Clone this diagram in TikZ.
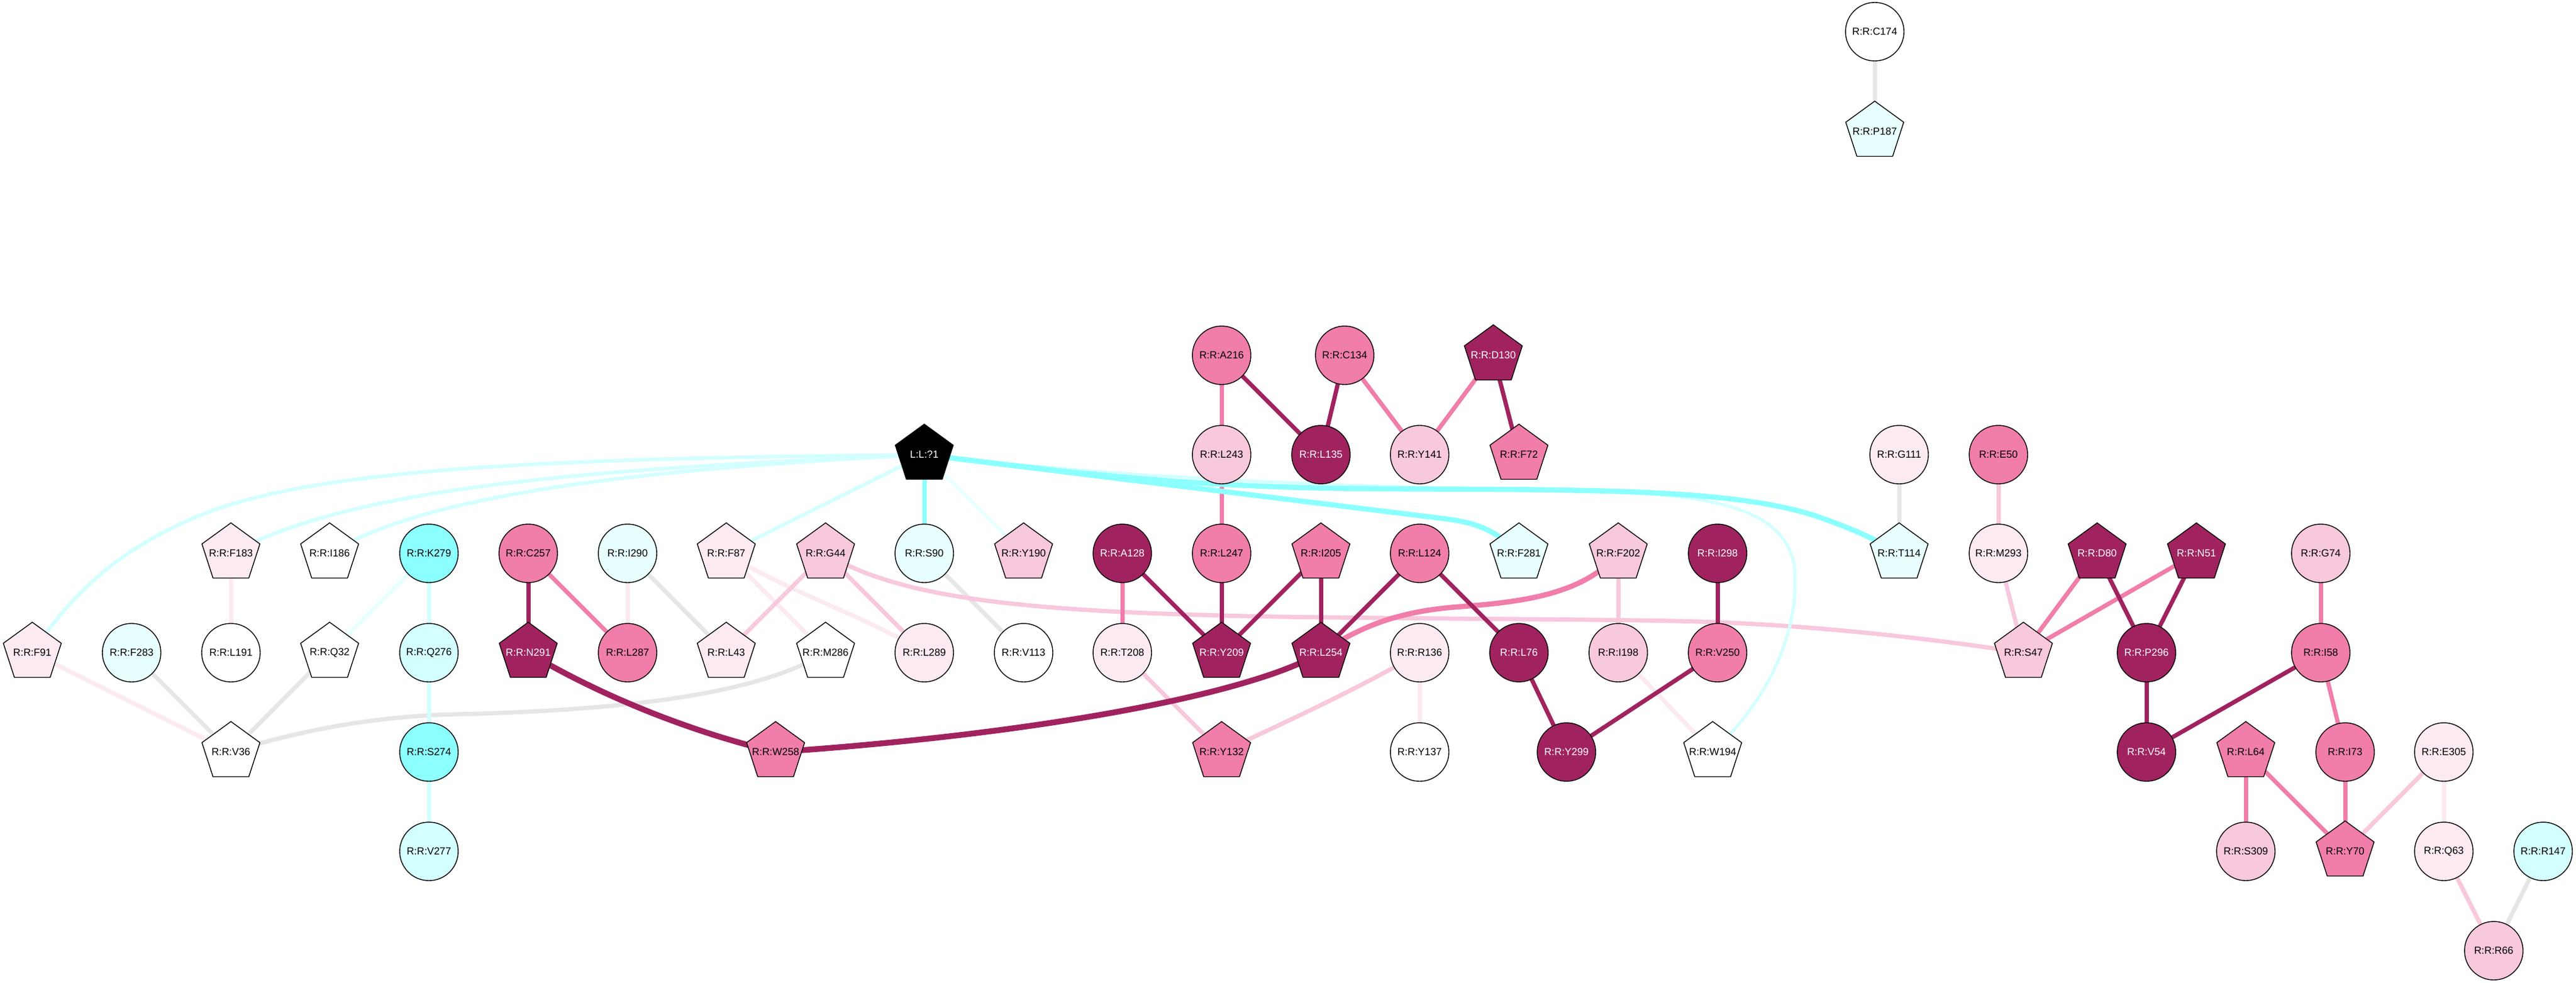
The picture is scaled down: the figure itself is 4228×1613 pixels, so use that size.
\documentclass[tikz,border=0pt]{standalone}
\usepackage{fontspec}
\setmainfont{Liberation Sans}
\usetikzlibrary{shapes.geometric,backgrounds}
\definecolor{dk}{HTML}{A0235F}
\definecolor{md}{HTML}{F07DAA}
\definecolor{lt}{HTML}{F8C8DC}
\definecolor{vl}{HTML}{FBEAF2}
\definecolor{cy}{HTML}{8CFFFF}
\definecolor{cl}{HTML}{D4FFFF}
\definecolor{cv}{HTML}{E8FFFF}
\definecolor{gr}{HTML}{E6E6E6}
\newcommand\nlab[1]{\makebox[0pt]{#1}}
\tikzset{
  base/.style={draw=black, line width=1.4pt, inner sep=0pt, font=\fontsize{16.8}{17}\selectfont},
  cir/.style={base, circle, minimum size=96pt},
  pen/.style={base, regular polygon, regular polygon sides=5, minimum size=100pt},
  fw/.style={fill=white},
  fdk/.style={fill=dk, text=white},
  fmd/.style={fill=md},
  flt/.style={fill=lt},
  fvl/.style={fill=vl},
  fcy/.style={fill=cy},
  fcl/.style={fill=cl},
  fcv/.style={fill=cv},
  fbk/.style={fill=black, text=white},
  edge/.style={line width=7pt, line cap=butt},
  egr/.style={edge, draw=gr},
  evl/.style={edge, draw=vl},
  elt/.style={edge, draw=lt},
  emd/.style={edge, draw=md},
  edk/.style={edge, draw=dk},
  ecy/.style={edge, draw=cy},
  ecl/.style={edge, draw=cl},
  ecv/.style={edge, draw=cv},
}
\begin{document}
\begin{tikzpicture}[x=1pt,y=-1pt]
\useasboundingbox (0,0) rectangle (4228,1613);
% row 0-1
\node[cir,fw]  (C174) at (3077,52)  {\nlab{R:R:C174}};
\node[pen,fcv] (P187) at (3077,216) {\nlab{R:R:P187}};
% row 2
\node[cir,fmd] (A216) at (2005,583) {\nlab{R:R:A216}};
\node[cir,fmd] (C134) at (2207,583) {\nlab{R:R:C134}};
\node[pen,fdk] (D130) at (2451,583) {\nlab{R:R:D130}};
% row 3
\node[pen,fbk] (L1)   at (1517,746) {\nlab{L:L:?1}};
\node[cir,flt] (L243) at (2005,746) {\nlab{R:R:L243}};
\node[cir,fdk] (L135) at (2168,746) {\nlab{R:R:L135}};
\node[cir,flt] (Y141) at (2330,746) {\nlab{R:R:Y141}};
\node[pen,fmd] (F72)  at (2493,746) {\nlab{R:R:F72}};
\node[cir,fvl] (G111) at (3117,746) {\nlab{R:R:G111}};
\node[cir,fmd] (E50)  at (3280,746) {\nlab{R:R:E50}};
% row 4
\node[pen,fvl] (F183) at (379,908)  {\nlab{R:R:F183}};
\node[pen,fw]  (I186) at (541,908)  {\nlab{R:R:I186}};
\node[cir,fcy] (K279) at (704,908)  {\nlab{R:R:K279}};
\node[cir,fmd] (C257) at (867,908)  {\nlab{R:R:C257}};
\node[cir,fcv] (I290) at (1030,908) {\nlab{R:R:I290}};
\node[pen,fvl] (F87)  at (1192,908) {\nlab{R:R:F87}};
\node[pen,flt] (G44)  at (1355,908) {\nlab{R:R:G44}};
\node[cir,fcv] (S90)  at (1517,908) {\nlab{R:R:S90}};
\node[pen,flt] (Y190) at (1680,908) {\nlab{R:R:Y190}};
\node[cir,fdk] (A128) at (1842,908) {\nlab{R:R:A128}};
\node[cir,fmd] (L247) at (2005,908) {\nlab{R:R:L247}};
\node[pen,fmd] (I205) at (2168,908) {\nlab{R:R:I205}};
\node[cir,fmd] (L124) at (2330,908) {\nlab{R:R:L124}};
\node[pen,fcv] (F281) at (2493,908) {\nlab{R:R:F281}};
\node[pen,flt] (F202) at (2656,908) {\nlab{R:R:F202}};
\node[cir,fdk] (I298) at (2819,908) {\nlab{R:R:I298}};
\node[pen,fcv] (T114) at (3117,908) {\nlab{R:R:T114}};
\node[cir,fvl] (M293) at (3280,908) {\nlab{R:R:M293}};
\node[pen,fdk] (D80)  at (3442,908) {\nlab{R:R:D80}};
\node[pen,fdk] (N51)  at (3605,908) {\nlab{R:R:N51}};
\node[cir,flt] (G74)  at (3809,908) {\nlab{R:R:G74}};
% row 5
\node[pen,fvl] (F91)  at (53,1071)   {\nlab{R:R:F91}};
\node[cir,fcv] (F283) at (216,1071)  {\nlab{R:R:F283}};
\node[cir,fw]  (L191) at (379,1071)  {\nlab{R:R:L191}};
\node[pen,fw]  (Q32)  at (541,1071)  {\nlab{R:R:Q32}};
\node[cir,fcl] (Q276) at (704,1071)  {\nlab{R:R:Q276}};
\node[pen,fdk] (N291) at (867,1071)  {\nlab{R:R:N291}};
\node[cir,fmd] (L287) at (1030,1071) {\nlab{R:R:L287}};
\node[pen,fvl] (L43)  at (1192,1071) {\nlab{R:R:L43}};
\node[pen,fw]  (M286) at (1355,1071) {\nlab{R:R:M286}};
\node[cir,fvl] (L289) at (1517,1071) {\nlab{R:R:L289}};
\node[cir,fw]  (V113) at (1680,1071) {\nlab{R:R:V113}};
\node[cir,fvl] (T208) at (1842,1071) {\nlab{R:R:T208}};
\node[pen,fdk] (Y209) at (2005,1071) {\nlab{R:R:Y209}};
\node[pen,fdk] (L254) at (2168,1071) {\nlab{R:R:L254}};
\node[cir,fvl] (R136) at (2330,1071) {\nlab{R:R:R136}};
\node[cir,fdk] (L76)  at (2493,1071) {\nlab{R:R:L76}};
\node[cir,flt] (I198) at (2656,1071) {\nlab{R:R:I198}};
\node[cir,fmd] (V250) at (2819,1071) {\nlab{R:R:V250}};
\node[pen,flt] (S47)  at (3321,1071) {\nlab{R:R:S47}};
\node[cir,fdk] (P296) at (3523,1071) {\nlab{R:R:P296}};
\node[cir,fmd] (I58)  at (3809,1071) {\nlab{R:R:I58}};
% row 6
\node[pen,fw]  (V36)  at (379,1234)  {\nlab{R:R:V36}};
\node[cir,fcy] (S274) at (704,1234)  {\nlab{R:R:S274}};
\node[pen,fmd] (W258) at (1273,1234) {\nlab{R:R:W258}};
\node[pen,fmd] (Y132) at (2005,1234) {\nlab{R:R:Y132}};
\node[cir,fw]  (Y137) at (2330,1234) {\nlab{R:R:Y137}};
\node[cir,fdk] (Y299) at (2571,1234) {\nlab{R:R:Y299}};
\node[pen,fw]  (W194) at (2811,1234) {\nlab{R:R:W194}};
\node[cir,fdk] (V54)  at (3523,1234) {\nlab{R:R:V54}};
\node[pen,fmd] (L64)  at (3686,1234) {\nlab{R:R:L64}};
\node[cir,fmd] (I73)  at (3849,1234) {\nlab{R:R:I73}};
\node[cir,fvl] (E305) at (4011,1234) {\nlab{R:R:E305}};
% row 7-8
\node[cir,fcl] (V277) at (704,1397)  {\nlab{R:R:V277}};
\node[cir,flt] (S309) at (3686,1397) {\nlab{R:R:S309}};
\node[pen,fmd] (Y70)  at (3849,1397) {\nlab{R:R:Y70}};
\node[cir,fvl] (Q63)  at (4011,1397) {\nlab{R:R:Q63}};
\node[cir,fcl] (R147) at (4174,1397) {\nlab{R:R:R147}};
\node[cir,flt] (R66)  at (4093,1560) {\nlab{R:R:R66}};

\begin{scope}[on background layer]
% gray
\draw[egr] (C174.center) -- (P187.center);
\draw[egr] (F283.center) -- (V36.center);
\draw[egr] (Q32.center) -- (V36.center);
\draw[egr] (M286.center) .. controls (1250,1135) and (1050,1165) .. (750,1172) .. controls (600,1175) and (470,1205) .. (V36.center);
\draw[egr] (I290.center) -- (L43.center);
\draw[egr] (S90.center) -- (V113.center);
\draw[egr] (G111.center) -- (T114.center);
\draw[egr] (R147.center) -- (R66.center);
% very light pink
\draw[evl] (F91.center) -- (V36.center);
\draw[evl] (F183.center) -- (L191.center);
\draw[evl] (I290.center) -- (L287.center);
\draw[evl] (F87.center) .. controls (1300,975) and (1420,1010) .. (L289.center);
\draw[evl] (F87.center) -- (M286.center);
\draw[evl] (R136.center) -- (Y137.center);
\draw[evl] (I198.center) -- (W194.center);
\draw[evl] (E305.center) -- (Q63.center);
% light pink
\draw[elt] (G44.center) -- (L43.center);
\draw[elt] (G44.center) -- (L289.center);
\draw[elt] (G44.center) .. controls (1480,985) and (1700,1005) .. (2100,1012) .. controls (2400,1016) and (2600,1016) .. (2750,1019) .. controls (2950,1023) and (3150,1045) .. (S47.center);
\draw[elt] (T208.center) -- (Y132.center);
\draw[elt] (R136.center) .. controls (2230,1130) and (2120,1180) .. (Y132.center);
\draw[elt] (F202.center) -- (I198.center);
\draw[elt] (E50.center) -- (M293.center);
\draw[elt] (M293.center) -- (S47.center);
\draw[elt] (Q63.center) -- (R66.center);
\draw[elt] (E305.center) -- (Y70.center);
% medium pink
\draw[emd] (A216.center) -- (L243.center);
\draw[emd] (L243.center) -- (L247.center);
\draw[emd] (C134.center) -- (Y141.center);
\draw[emd] (D130.center) -- (Y141.center);
\draw[emd] (A128.center) -- (T208.center);
\draw[emd] (C257.center) -- (L287.center);
\draw[emd, line width=8.5pt] (F202.center) .. controls (2600,975) and (2500,988) .. (2390,996) .. controls (2290,1004) and (2230,1030) .. (L254.center);
\draw[emd] (D80.center) -- (S47.center);
\draw[emd] (N51.center) -- (S47.center);
\draw[emd] (G74.center) -- (I58.center);
\draw[emd] (I58.center) -- (I73.center);
\draw[emd] (L64.center) -- (S309.center);
\draw[emd] (L64.center) -- (Y70.center);
\draw[emd] (I73.center) -- (Y70.center);
% dark
\draw[edk] (A216.center) -- (L135.center);
\draw[edk] (C134.center) -- (L135.center);
\draw[edk] (D130.center) -- (F72.center);
\draw[edk] (C257.center) -- (N291.center);
\draw[edk, line width=9.5pt] (N291.center) .. controls (1000,1150) and (1150,1205) .. (W258.center);
\draw[edk, line width=9.5pt] (W258.center) .. controls (1700,1205) and (2050,1140) .. (L254.center);
\draw[edk] (A128.center) -- (Y209.center);
\draw[edk] (L247.center) -- (Y209.center);
\draw[edk] (I205.center) -- (Y209.center);
\draw[edk] (I205.center) -- (L254.center);
\draw[edk] (L124.center) -- (L254.center);
\draw[edk] (L124.center) -- (L76.center);
\draw[edk] (L76.center) -- (Y299.center);
\draw[edk] (V250.center) -- (Y299.center);
\draw[edk] (I298.center) -- (V250.center);
\draw[edk] (D80.center) -- (P296.center);
\draw[edk] (N51.center) -- (P296.center);
\draw[edk] (P296.center) -- (V54.center);
\draw[edk] (I58.center) -- (V54.center);
% cyan
\draw[ecl] (K279.center) -- (Q276.center);
\draw[ecl] (Q276.center) -- (S274.center);
\draw[ecl] (S274.center) -- (V277.center);
\draw[ecv] (K279.center) -- (Q32.center);
\draw[ecl, line width=6pt] (L1.center) .. controls (900,752) and (520,768) .. (330,845) .. controls (200,898) and (120,970) .. (F91.center);
\draw[ecl, line width=6pt] (L1.center) .. controls (950,770) and (580,800) .. (F183.center);
\draw[ecl, line width=6pt] (L1.center) .. controls (1050,770) and (700,810) .. (I186.center);
\draw[ecl, line width=6pt] (L1.center) -- (F87.center);
\draw[ecv, line width=5pt] (L1.center) -- (Y190.center);
\draw[ecy] (L1.center) -- (S90.center);
\draw[ecl, line width=5pt] (L1.center) .. controls (1900,792) and (2300,800) .. (2600,806) .. controls (2800,810) and (2930,830) .. (2945,930) .. controls (2955,1040) and (2900,1150) .. (W194.center);
\draw[ecy, line width=8.5pt] (L1.center) -- (2370,851) .. controls (2430,858) and (2460,875) .. (F281.center);
\draw[ecy, line width=8.5pt] (L1.center) .. controls (1750,775) and (1950,800) .. (2250,802) .. controls (2600,804) and (2850,800) .. (2990,850) .. controls (3040,868) and (3080,885) .. (T114.center);
\end{scope}
\end{tikzpicture}
\end{document}
